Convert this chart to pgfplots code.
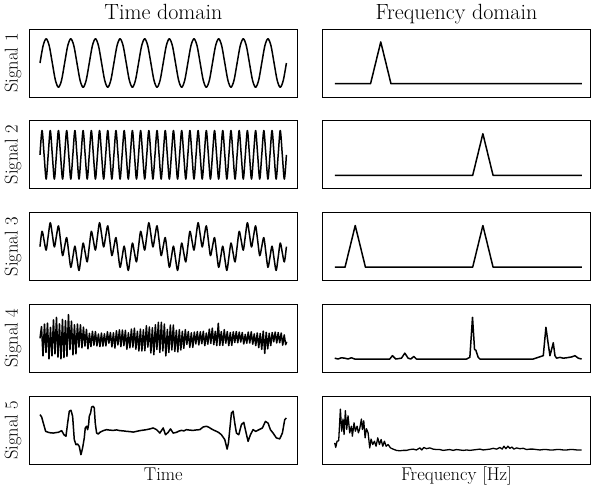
\documentclass[border=0pt]{standalone}
\usepackage{fontspec}
\usepackage{pgfplots}
\pgfplotsset{compat=1.18}
\usepgfplotslibrary{groupplots}

\pgfplotsset{
  sig/.style={black, line width=1.5pt, line join=round},
  time/.style={ymin=-1.4, ymax=1.4},
  freq/.style={xmin=-1.43, xmax=51.08, ymin=-0.32, ymax=1.31},
}

\begin{document}
\begin{tikzpicture}
\begin{groupplot}[
  group style={group name=G, group size=2 by 5, horizontal sep=25pt, vertical sep=23.75pt},
  scale only axis, width=268pt, height=68pt,
  xtick=\empty, ytick=\empty,
  axis line style={line width=0.9pt},
  title style={at={(axis description cs:0.5,1)}, anchor=base, yshift=3.5pt, inner sep=0pt,
    font=\fontsize{22}{26}\selectfont},
  xlabel style={at={(axis description cs:0.5,0)}, anchor=base, yshift=-16.7pt, inner sep=0pt,
    font=\fontsize{18.5}{22}\selectfont},
  ylabel style={at={(axis description cs:-0.044,0.5)}, anchor=base, inner sep=0pt,
    font=\fontsize{18.5}{22}\selectfont},
]

% ---- row 1
\nextgroupplot[time, xmin=-3.47, xmax=83.57, title={Time domain}, ylabel={Signal 1}]
\addplot[sig, smooth] coordinates {
(0,0)(1,.707)(2,1)(3,.707)(4,0)(5,-.707)(6,-1)(7,-.707)
(8,0)(9,.707)(10,1)(11,.707)(12,0)(13,-.707)(14,-1)(15,-.707)
(16,0)(17,.707)(18,1)(19,.707)(20,0)(21,-.707)(22,-1)(23,-.707)
(24,0)(25,.707)(26,1)(27,.707)(28,0)(29,-.707)(30,-1)(31,-.707)
(32,0)(33,.707)(34,1)(35,.707)(36,0)(37,-.707)(38,-1)(39,-.707)
(40,0)(41,.707)(42,1)(43,.707)(44,0)(45,-.707)(46,-1)(47,-.707)
(48,0)(49,.707)(50,1)(51,.707)(52,0)(53,-.707)(54,-1)(55,-.707)
(56,0)(57,.707)(58,1)(59,.707)(60,0)(61,-.707)(62,-1)(63,-.707)
(64,0)(65,.707)(66,1)(67,.707)(68,0)(69,-.707)(70,-1)(71,-.707)
(72,0)(73,.707)(74,1)(75,.707)(76,0)(77,-.707)(78,-1)(79,-.707)
(80,0)};

\nextgroupplot[freq, title={Frequency domain}]
\addplot[sig] coordinates {(1,0)(8,0)(10,1)(12,0)(49.4,0)};

% ---- row 2
\nextgroupplot[time, xmin=-5.2, xmax=125.35, ylabel={Signal 2}]
\addplot[sig, smooth] coordinates {
(0,0)(1,1)(2,0)(3,-1)(4,0)(5,1)(6,0)(7,-1)
(8,0)(9,1)(10,0)(11,-1)(12,0)(13,1)(14,0)(15,-1)
(16,0)(17,1)(18,0)(19,-1)(20,0)(21,1)(22,0)(23,-1)
(24,0)(25,1)(26,0)(27,-1)(28,0)(29,1)(30,0)(31,-1)
(32,0)(33,1)(34,0)(35,-1)(36,0)(37,1)(38,0)(39,-1)
(40,0)(41,1)(42,0)(43,-1)(44,0)(45,1)(46,0)(47,-1)
(48,0)(49,1)(50,0)(51,-1)(52,0)(53,1)(54,0)(55,-1)
(56,0)(57,1)(58,0)(59,-1)(60,0)(61,1)(62,0)(63,-1)
(64,0)(65,1)(66,0)(67,-1)(68,0)(69,1)(70,0)(71,-1)
(72,0)(73,1)(74,0)(75,-1)(76,0)(77,1)(78,0)(79,-1)
(80,0)(81,1)(82,0)(83,-1)(84,0)(85,1)(86,0)(87,-1)
(88,0)(89,1)(90,0)(91,-1)(92,0)(93,1)(94,0)(95,-1)
(96,0)(97,1)(98,0)(99,-1)(100,0)(101,1)(102,0)(103,-1)
(104,0)(105,1)(106,0)(107,-1)(108,0)(109,1)(110,0)(111,-1)
(112,0)(113,1)(114,0)(115,-1)(116,0)(117,1)(118,0)(119,-1)
(120,0)};

\nextgroupplot[freq]
\addplot[sig] coordinates {(1,0)(28,0)(30,1)(32,0)(49.4,0)};

% ---- row 3
\nextgroupplot[time, xmin=-5.2, xmax=125.35, ylabel={Signal 3}]
\addplot[sig, smooth] coordinates {
(0,0)(1,.629)(2,.25)(3,-.146)(4,.433)(5,.983)(6,.5)(7,-.017)(8,.433)(9,.854)(10,.25)(11,-.371)
(12,0)(13,.371)(14,-.25)(15,-.854)(16,-.433)(17,.017)(18,-.5)(19,-.983)(20,-.433)(21,.146)(22,-.25)(23,-.629)
(24,0)(25,.629)(26,.25)(27,-.146)(28,.433)(29,.983)(30,.5)(31,-.017)(32,.433)(33,.854)(34,.25)(35,-.371)
(36,0)(37,.371)(38,-.25)(39,-.854)(40,-.433)(41,.017)(42,-.5)(43,-.983)(44,-.433)(45,.146)(46,-.25)(47,-.629)
(48,0)(49,.629)(50,.25)(51,-.146)(52,.433)(53,.983)(54,.5)(55,-.017)(56,.433)(57,.854)(58,.25)(59,-.371)
(60,0)(61,.371)(62,-.25)(63,-.854)(64,-.433)(65,.017)(66,-.5)(67,-.983)(68,-.433)(69,.146)(70,-.25)(71,-.629)
(72,0)(73,.629)(74,.25)(75,-.146)(76,.433)(77,.983)(78,.5)(79,-.017)(80,.433)(81,.854)(82,.25)(83,-.371)
(84,0)(85,.371)(86,-.25)(87,-.854)(88,-.433)(89,.017)(90,-.5)(91,-.983)(92,-.433)(93,.146)(94,-.25)(95,-.629)
(96,0)(97,.629)(98,.25)(99,-.146)(100,.433)(101,.983)(102,.5)(103,-.017)(104,.433)(105,.854)(106,.25)(107,-.371)
(108,0)(109,.371)(110,-.25)(111,-.854)(112,-.433)(113,.017)(114,-.5)(115,-.983)(116,-.433)(117,.146)(118,-.25)(119,-.629)
(120,0)};

\nextgroupplot[freq]
\addplot[sig] coordinates {(1,0)(3,0)(5,1)(7,0)(28,0)(30,1)(32,0)(49.4,0)};

% ---- row 4
\nextgroupplot[time, xmin=29.3, xmax=297.7, ylabel={Signal 4}]
\addplot[sig, line width=1.5pt] coordinates {
(40,0)(41.5,.48)(43,-.72)(44.5,.59)(46,-.58)(47.5,.63)(49,-.84)(50.5,.45)(52,-.72)(53.5,.76)
(55,-.64)(56.5,.86)(58,-.77)(59.5,.6)(61,-.84)(62.5,.78)(64,-.79)(65.5,.73)(67,-.74)(68.5,.98)
(70,-.46)(71.5,.71)(73,-.68)(74.5,.56)(76,-.64)(77.5,.59)(79,-.36)(80.5,.56)(82,-.39)(83.5,.46)
(85,-.32)(86.5,.37)(88,-.43)(89.5,.21)(91,-.34)(92.5,.29)(94,-.28)(95.5,.28)(97,-.31)(98.5,.18)
(100,-.34)(101.5,.22)(103,-.32)(104.5,.19)(106,-.31)(107.5,.27)(109,-.2)(110.5,.24)(112,-.35)(113.5,.23)
(115,-.4)(116.5,.31)(118,-.27)(119.5,.35)(121,-.34)(122.5,.34)(124,-.3)(125.5,.33)(127,-.45)(128.5,.23)
(130,-.39)(131.5,.38)(133,-.36)(134.5,.42)(136,-.45)(137.5,.29)(139,-.52)(140.5,.38)(142,-.52)(143.5,.35)
(145,-.51)(146.5,.52)(148,-.36)(149.5,.47)(151,-.6)(152.5,.44)(154,-.67)(155.5,.56)(157,-.46)(158.5,.66)
(160,-.58)(161.5,.66)(163,-.52)(164.5,.59)(166,-.72)(167.5,.37)(169,-.58)(170.5,.55)(172,-.48)(173.5,.55)
(175,-.54)(176.5,.33)(178,-.56)(179.5,.36)(181,-.48)(182.5,.29)(184,-.41)(185.5,.36)(187,-.25)(188.5,.28)
(190,-.37)(191.5,.23)(193,-.37)(194.5,.26)(196,-.23)(197.5,.28)(199,-.27)(200.5,.27)(202,-.22)(203.5,.29)
(205,-.3)(206.5,.22)(208,-.24)(209.5,.38)(211,-.21)(212.5,.42)(214,-.26)(215.5,.29)(217,-.3)(218.5,.62)
(220,-.29)(221.5,.28)(223,-.29)(224.5,.36)(226,-.2)(227.5,.28)(229,-.3)(230.5,.24)(232,-.29)(233.5,.27)
(235,-.17)(236.5,.28)(238,-.18)(239.5,.26)(241,-.15)(242.5,.24)(244,-.23)(245.5,.16)(247,-.2)(248.5,.26)
(250,-.19)(251.5,.27)(253,-.24)(254.5,.18)(256,-.3)(257.5,.22)(259,-.38)(260.5,.2)(262,-.45)(263.5,.3)
(265,-.62)(266.5,.25)(268,-.43)(269.5,.21)(271,-.3)(272.5,.24)(274,-.14)(275.5,.26)(277,-.19)(278.5,.24)
(280,-.18)(281.5,.22)(283,-.28)(284.5,.14)(286,-.26)(287,-.14)};

\nextgroupplot[freq]
\addplot[sig] coordinates {
(0.98,.02)(1.63,0)(2.29,.03)(2.94,.02)(3.59,0)(4.25,.03)(4.90,0)(7.19,0)(9.80,0)(11.76,0)
(12.29,.08)(12.94,0)(14.05,.02)(14.71,.14)(15.36,.02)(15.88,0)(16.47,.06)(16.99,0)(20.26,0)(23.53,0)
(26.80,0)(27.45,.04)(27.97,1.0)(28.37,.23)(28.63,.21)(29.08,.04)(29.41,0)(33.33,0)(36.60,0)(39.87,0)
(41.83,.08)(42.35,.76)(42.81,.35)(43.14,.08)(43.46,.23)(43.79,.39)(44.12,.08)(44.44,.02)(45.10,.04)(45.75,.02)
(46.41,.03)(47.39,.05)(48.04,.08)(48.69,.02)(49.35,0)};

% ---- row 5
\nextgroupplot[time, xmin=29.3, xmax=297.7, ylabel={Signal 5}, xlabel={Time}]
\addplot[sig] coordinates {
(40,.64)(41.67,.54)(43.33,.29)(45.67,-.05)(48.33,-.09)(50.5,-.11)(53.33,-.12)(56,-.1)(58.33,-.09)(61.67,-.02)
(64,-.19)(66,-.25)(67.67,.29)(69.33,.78)(71,.82)(72.67,.57)(74.33,-.39)(76,-.6)(77.67,-.57)(79.33,-.67)
(81,-1.01)(82.67,-.73)(84.33,-.32)(85.33,.09)(86.67,.16)(87.67,.02)(88.67,.23)(89.33,.57)(90.67,.71)(91.67,.95)
(93.33,.98)(94.33,.91)(95.33,.29)(96.67,-.12)(98.33,-.16)(100,-.09)(103.33,-.02)(106.67,.02)(110,0)(113.33,-.01)
(116.67,.01)(120,-.02)(123.33,-.03)(126.67,-.05)(130,-.06)(133.33,-.08)(136.67,-.05)(140,-.02)(143.33,0)(146.67,.02)
(150,.05)(153.33,.09)(156.67,.02)(160,-.12)(163.33,.09)(165.67,-.19)(168.33,-.09)(170.67,.05)(173.33,-.12)(176.67,-.09)
(179,-.04)(181.67,-.01)(184,-.03)(186.67,.02)(190,0)(193.33,-.01)(196.67,.01)(200,.02)(203.33,.13)(206.67,.16)
(209,.12)(211.67,.05)(214,0)(216.67,-.05)(219,-.1)(221.67,-.19)(225,-.39)(227.33,-.78)(228.67,-.53)(230,.02)
(231.67,.71)(233.33,.78)(235,.29)(236.67,-.12)(239,-.19)(241.67,.23)(244,.32)(246,-.05)(248.33,-.46)(250.67,-.19)
(253.33,.02)(256,-.05)(259.33,.02)(262.67,.09)(265.67,.36)(268.33,.29)(270.67,.02)(273.33,-.12)(276.67,-.32)(280,-.36)
(282.67,-.12)(285,.43)(286.67,.5)};

\nextgroupplot[freq, xlabel={Frequency [Hz]}]
\addplot[sig, line width=1.3pt] coordinates {
(0.98,.19)(1.18,.08)(1.44,.23)(1.76,.24)(2.09,1.0)(2.35,.47)(2.61,.76)(2.81,.39)(3.07,.96)(3.33,.51)
(3.59,.84)(3.92,.43)(4.25,.59)(4.44,.35)(4.77,.67)(5.03,.47)(5.36,.59)(5.62,.43)(5.88,.53)(6.21,.76)
(6.41,.51)(6.67,.72)(6.93,.31)(7.19,.53)(7.52,.43)(7.84,.07)(8.10,.28)(8.43,.15)(8.76,.23)(9.08,.11)
(9.41,.31)(9.74,.15)(10.07,.27)(10.39,.11)(10.72,.23)(11.05,.11)(11.44,.15)(11.90,.07)(12.42,.04)(13.07,.01)
(13.73,0)(14.4,.01)(15.03,.01)(15.7,.03)(16.34,.04)(16.99,.02)(17.65,.07)(18.04,.02)(18.43,.08)(18.95,.05)
(19.61,.07)(20.26,.04)(20.9,.03)(21.57,.03)(22.2,.01)(22.88,.02)(23.5,.03)(24.18,.01)(24.8,.03)(25.49,.02)
(26.15,.01)(26.80,.02)(27.45,.01)(28.10,.02)(28.75,.03)(29.41,.04)(30.07,.02)(30.72,.03)(31.4,.04)(32.03,.06)
(32.68,.04)(33.33,.08)(33.79,.04)(34.12,.11)(34.51,.05)(34.90,.11)(35.29,.06)(35.69,.09)(36.08,.04)(36.60,.07)
(37.25,.05)(37.91,.06)(38.56,.03)(39.2,.04)(39.87,.04)(40.5,.03)(41.18,.02)(41.8,.03)(42.48,.03)(43.1,.02)
(43.79,.02)(44.4,.03)(45.10,.03)(45.75,.02)(46.41,.02)(47.05,.03)(47.71,.03)(48.4,.02)(49.35,.02)};
\end{groupplot}
\pgfresetboundingbox
\path[use as bounding box] ([xshift=-29.3pt,yshift=29pt]G c1r1.north west) rectangle ([xshift=1.5pt,yshift=-26pt]G c2r5.south east);
\end{tikzpicture}
\end{document}
